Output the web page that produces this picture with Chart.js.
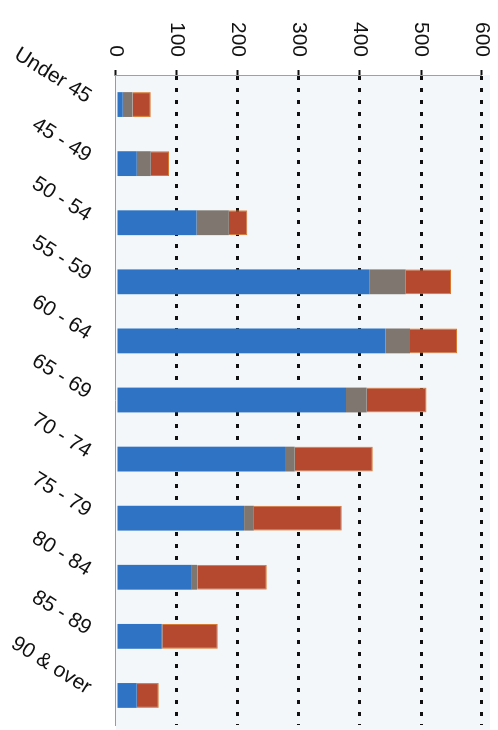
<!DOCTYPE html>
<html>
<head>
<meta charset="utf-8">
<script src="https://cdn.jsdelivr.net/npm/chart.js@4/dist/chart.umd.min.js"></script>
<style>
  html, body { margin: 0; padding: 0; background: #fff; overflow: hidden; }
  /* chart is built as a vertical bar chart and turned a quarter clockwise */
  #wrap {
    position: absolute; left: 0; top: 0;
    width: 730px; height: 498px;
    transform-origin: 0 0;
    transform: translateX(498px) rotate(90deg);
  }
</style>
</head>
<body>
<div id="wrap"><canvas id="edades" width="730" height="498"></canvas></div>
<script>
// Age bands and stacked counts
const ageGroups = ["Under 45", "45 - 49", "50 - 54", "55 - 59", "60 - 64", "65 - 69",
  "70 - 74", "75 - 79", "80 - 84", "85 - 89", "90 & over"];
const blueValues = [11, 34, 132, 415, 442, 377, 277, 210, 124, 75, 34];
const grayValues = [16, 23, 53, 60, 40, 34, 16, 16, 9, 1, 0];
const redValues = [30, 30, 30, 74, 77, 98, 128, 144, 114, 91, 36];
const valueMin = 0;
const valueMax = 600;
const valueStep = 100;

const fuente = { family: "Liberation Sans, Arial, sans-serif", size: 21 };

const fondoPlot = {
  id: "fondoPlot",
  beforeDraw(chart) {
    const { ctx, chartArea: a } = chart;
    ctx.save();
    ctx.fillStyle = "#f3f7f9";
    ctx.fillRect(a.left, a.top - 8, a.right - a.left + 5, a.bottom - a.top + 8);
    ctx.restore();
  },
};

const ctx = document.getElementById("edades").getContext("2d");

new Chart(ctx, {
  type: "bar",
  data: {
    labels: ageGroups,
    datasets: [
      { label: "A", data: blueValues, backgroundColor: "#2f74c4" },
      { label: "B", data: grayValues, backgroundColor: "#7f7670" },
      { label: "C", data: redValues, backgroundColor: "#b4492f",
        borderColor: "#d7772f", borderWidth: 1, borderSkipped: "start" },
    ],
  },
  options: {
    responsive: false,
    animation: false,
    layout: { padding: { top: 16, right: 5, left: 0, bottom: 0 } },
    datasets: {
      bar: { barPercentage: 0.42, categoryPercentage: 1 },
    },
    plugins: {
      legend: { display: false },
      tooltip: { enabled: false },
    },
    scales: {
      x: {
        stacked: true,
        grid: { display: false },
        border: { display: true, color: "#9a9a9a", width: 1 },
        ticks: {
          color: "#111",
          font: fuente,
          minRotation: 58,
          maxRotation: 58,
          padding: 12,
          labelOffset: -6,
          autoSkip: false,
        },
        afterFit(scale) {
          scale.height = 116;
          scale.paddingLeft = 0;
          scale.paddingRight = 0;
        },
      },
      y: {
        stacked: true,
        min: valueMin,
        max: valueMax,
        ticks: {
          stepSize: valueStep,
          color: "#111",
          font: fuente,
          padding: 13,
        },
        grid: {
          color: (c) => (c.tick && c.tick.value === 0 ? "rgba(0,0,0,0)" : "#111"),
          lineWidth: 3,
          tickLength: 5,
          tickColor: "#111",
          tickWidth: 2,
        },
        border: { display: true, color: "#a0a0a0", width: 1, dash: [4, 8] },
        afterFit(scale) {
          scale.width = 75;
          scale.paddingTop = 0;
          scale.paddingBottom = 0;
        },
      },
    },
  },
  plugins: [fondoPlot],
});
</script>
</body>
</html>
